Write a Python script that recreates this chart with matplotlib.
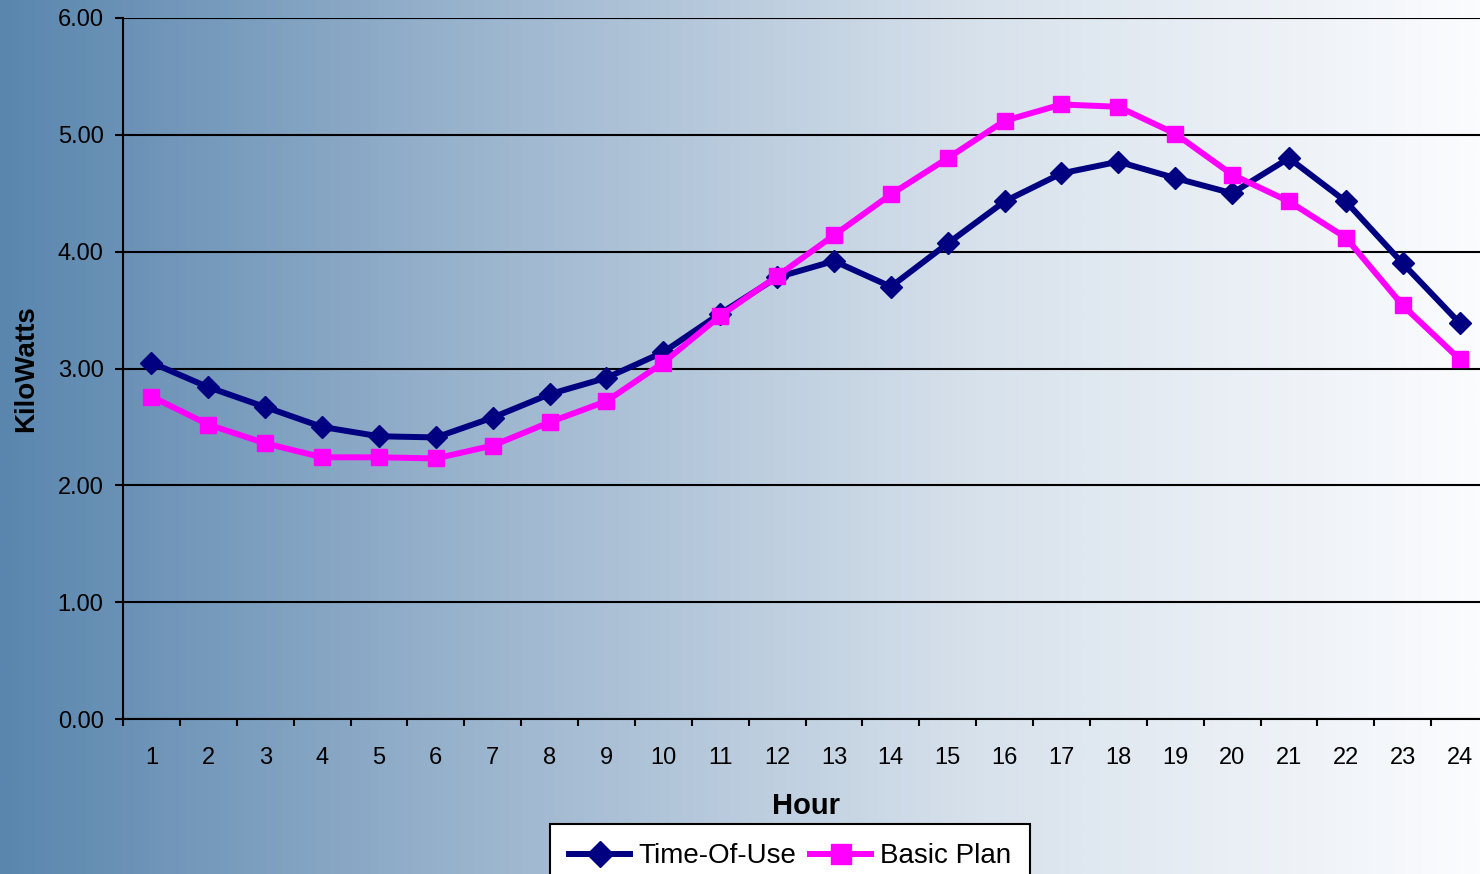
import numpy as np
import matplotlib
matplotlib.use("Agg")
import matplotlib.pyplot as plt
from matplotlib.colors import LinearSegmentedColormap

plt.rcParams['font.family'] = ['Liberation Sans', 'DejaVu Sans']

hours = list(range(1, 25))
time_of_use = [3.05, 2.84, 2.67, 2.50, 2.42, 2.41, 2.58, 2.78, 2.92, 3.14, 3.47, 3.78,
               3.92, 3.70, 4.07, 4.43, 4.67, 4.77, 4.63, 4.50, 4.80, 4.43, 3.90, 3.39]
basic_plan = [2.76, 2.52, 2.36, 2.24, 2.24, 2.23, 2.34, 2.54, 2.72, 3.05, 3.45, 3.79,
              4.14, 4.49, 4.80, 5.12, 5.26, 5.24, 5.01, 4.66, 4.43, 4.12, 3.54, 3.08]
y_ticks = [0, 1, 2, 3, 4, 5, 6]

fig = plt.figure(figsize=(14.8, 8.74), dpi=100)

# background gradient, steel blue to white
bg = fig.add_axes([0, 0, 1, 1], zorder=-1)
cmap = LinearSegmentedColormap.from_list('bg', ['#5a86ae', '#9db6cf', '#d8e2ec', '#fbfcfe'])
grad = np.linspace(0, 1, 512).reshape(1, -1)
bg.imshow(grad, aspect='auto', cmap=cmap, extent=[0, 1, 0, 1])
bg.axis('off')

ax = fig.add_axes([123 / 1480, 1 - 719 / 874, (1488 - 123) / 1480, (719 - 18) / 874])
ax.set_facecolor('none')

ax.plot(hours, time_of_use, color='#000080', lw=4.3, marker='D', markersize=11,
        label='Time-Of-Use', zorder=3)
ax.plot(hours, basic_plan, color='#ff00ff', lw=4.3, marker='s', markersize=11.5,
        label='Basic Plan', zorder=3)

ax.set_xlim(0.5, 24.5)
ax.set_ylim(0, 6)
ax.set_yticks(y_ticks)
ax.set_yticklabels([f'{v:.2f}' for v in y_ticks])
ax.yaxis.grid(True, color='black', lw=1.5)
ax.set_axisbelow(True)

# category ticks between hours, labels at hour centers
ax.set_xticks(np.arange(0.5, 25, 1))
ax.set_xticklabels([])
ax.set_xticks(hours, minor=True)
ax.set_xticklabels([str(h) for h in hours], minor=True)
ax.tick_params(axis='x', which='major', length=5, width=1.5, direction='out')
ax.tick_params(axis='x', which='minor', length=0, pad=20, labelsize=17)
ax.tick_params(axis='y', length=6, width=1.5, pad=8, labelsize=17)

for s in ['top', 'right']:
    ax.spines[s].set_visible(False)
for s in ['left', 'bottom']:
    ax.spines[s].set_linewidth(1.5)

ax.set_xlabel('Hour', fontsize=21, fontweight='bold', labelpad=17)
ax.set_ylabel('KiloWatts', fontsize=20, fontweight='bold', labelpad=13)

leg = fig.legend(loc='upper center', bbox_to_anchor=(790 / 1480, 1 - 824 / 874),
                 ncol=2, fontsize=20, frameon=True, fancybox=False, edgecolor='black',
                 facecolor='white', framealpha=1, handlelength=2.2, handletextpad=0.3,
                 columnspacing=0.5, borderpad=0.7, borderaxespad=0, markerscale=1.2)
leg.get_frame().set_linewidth(1.5)

fig.savefig('out.png', dpi=100)
